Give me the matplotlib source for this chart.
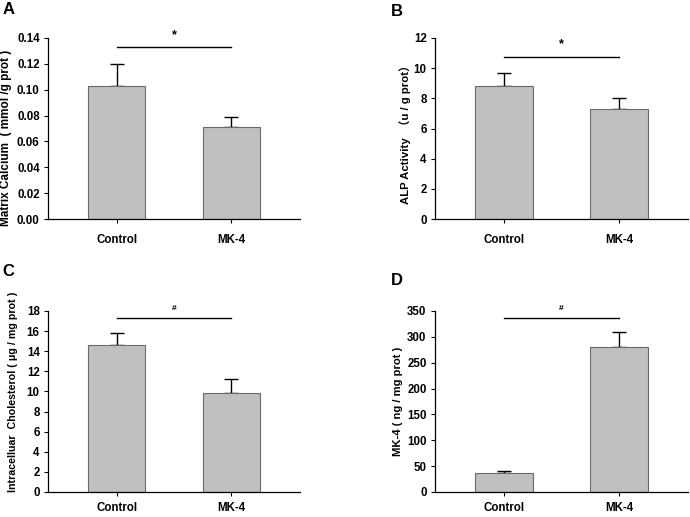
import matplotlib
matplotlib.use("Agg")
import matplotlib.pyplot as plt

plt.rcParams['font.family'] = ['Liberation Sans', 'Noto Sans CJK SC', 'DejaVu Sans']
plt.rcParams['font.weight'] = 'bold'

groups = ["Control", "MK-4"]

calcium_mean = [0.103, 0.071]
calcium_err = [0.017, 0.008]

alp_mean = [8.8, 7.3]
alp_err = [0.9, 0.75]

chol_mean = [14.6, 9.85]
chol_err = [1.2, 1.35]

mk4_mean = [37, 280]
mk4_err = [3.5, 30]

panels = [
    # letter, mean, err, ylim, ticks, ytick format, ylabel, sig mark, sig line y
    ("A", calcium_mean, calcium_err, 0.14, [0, 0.02, 0.04, 0.06, 0.08, 0.10, 0.12, 0.14], "{:.2f}",
     "Matrix Calcium  ( mmol /g prot )", "*", 0.1327),
    ("B", alp_mean, alp_err, 12, [0, 2, 4, 6, 8, 10, 12], "{:d}",
     "ALP Activity  （u / g prot）", "*", 10.75),
    ("C", chol_mean, chol_err, 18, [0, 2, 4, 6, 8, 10, 12, 14, 16, 18], "{:d}",
     "Intracelluar  Cholesterol ( μg / mg prot )", "#", 17.3),
    ("D", mk4_mean, mk4_err, 350, [0, 50, 100, 150, 200, 250, 300, 350], "{:d}",
     "MK-4 ( ng / mg prot )", "#", 336),
]

# axes boxes in figure fraction
boxes = [
    [0.0696, 0.5764, 0.3652, 0.3501],
    [0.6304, 0.5764, 0.3670, 0.3501],
    [0.0696, 0.0484, 0.3652, 0.3501],
    [0.6304, 0.0484, 0.3670, 0.3501],
]
# ylabel centres (axes fraction) and sizes
label_xy = [(-0.166, 0.45), (-0.119, 0.48), (-0.139, 0.555), (-0.146, 0.50)]
label_size = [8.5, 8.2, 7.7, 8.1]
# x tick label pad (bottom row squeezed so the labels stay inside)
xpad = [7.5, 7.5, 4.5, 4.5]
# panel letters (figure fraction, top-left)
letters = [(0.004, 0.996), (0.567, 0.993), (0.004, 0.490), (0.567, 0.472)]

fig = plt.figure(figsize=(6.9, 5.17), dpi=100)

for (letter, mean, err, top, ticks, fmt, ylabel, mark, sig_y), box, lxy, lsz, pad, lpos in zip(
        panels, boxes, label_xy, label_size, xpad, letters):
    ax = fig.add_axes(box)
    x = [0, 1]
    ax.bar(x, mean, width=0.5, color="#c0c0c0", edgecolor="#6a6a6a", linewidth=0.8, zorder=2)
    ax.errorbar(x, mean, yerr=[[0, 0], err], fmt="none", ecolor="black",
                elinewidth=1.0, capsize=4.7, capthick=1.0, zorder=1)
    ax.set_xlim(-0.6, 1.6)
    ax.set_ylim(0, top)
    ax.set_yticks(ticks)
    ax.set_yticklabels([fmt.format(t) for t in ticks], fontsize=8.3, fontweight="bold")
    ax.set_xticks(x)
    ax.set_xticklabels(groups, fontsize=8.3, fontweight="bold")
    ax.tick_params(axis="x", length=3, width=0.8, pad=pad)
    ax.tick_params(axis="y", length=3, width=0.8, pad=3)
    for s in ["top", "right"]:
        ax.spines[s].set_visible(False)
    for s in ["left", "bottom"]:
        ax.spines[s].set_linewidth(0.9)
    ax.set_ylabel(ylabel, fontsize=lsz, fontweight="bold", va="center")
    ax.yaxis.set_label_coords(lxy[0], lxy[1])
    ax.plot([0, 1], [sig_y, sig_y], color="black", linewidth=1.0, clip_on=False)
    ax.text(0.5, sig_y + top * 0.035, mark, ha="center", va="bottom",
            fontsize=9 if mark == "*" else 6, fontweight="bold", clip_on=False)
    fig.text(lpos[0], lpos[1], letter, fontsize=12, fontweight="bold", ha="left", va="top")

fig.savefig("out.png", dpi=100)
